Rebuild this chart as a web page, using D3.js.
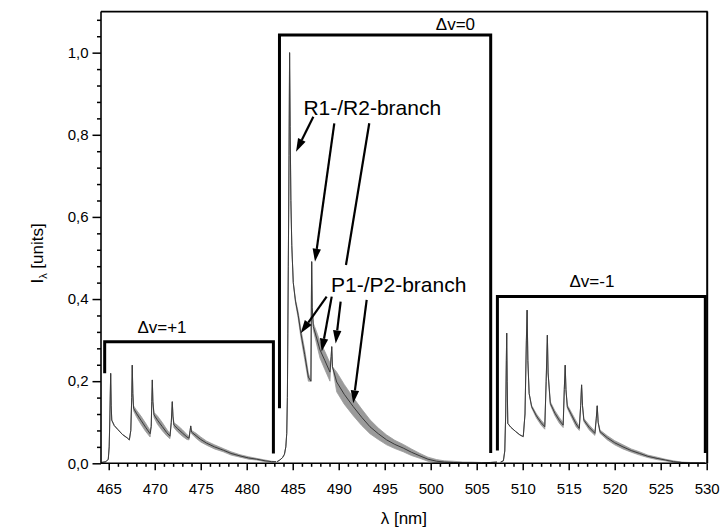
<!DOCTYPE html>
<html>
<head>
<meta charset="utf-8">
<script src="https://cdn.jsdelivr.net/npm/d3@7"></script>
<style>
  html, body { margin: 0; padding: 0; background: #fff; }
  svg { display: block; font-family: "Liberation Sans", Arial, Helvetica, sans-serif; }
</style>
</head>
<body>
<svg id="chart" width="723" height="530"></svg>
<script>
// ---- Spectrum data: wavelength (nm), intensity, noise half-width ----
// Δv=+1 sequence
const wlBand1 = [464.20,464.70,464.95,465.05,465.13,465.21,465.27,465.33,465.60,466.00,466.50,467.00,467.24,467.40,467.50,467.56,467.62,467.70,468.00,468.50,469.00,469.50,469.62,469.68,469.74,469.80,469.92,470.30,470.80,471.30,471.66,471.80,471.91,471.98,472.09,472.50,473.00,473.50,473.73,473.85,473.91,474.00,474.50,475.00,475.65,476.50,477.45,478.30,479.27,480.20,481.08,482.00,482.71,483.20];
const intBand1 = [0.002,0.004,0.010,0.040,0.120,0.219,0.140,0.105,0.092,0.082,0.070,0.062,0.057,0.080,0.160,0.239,0.170,0.134,0.122,0.105,0.088,0.072,0.090,0.150,0.203,0.150,0.118,0.105,0.090,0.075,0.066,0.100,0.150,0.115,0.093,0.084,0.074,0.064,0.061,0.080,0.091,0.076,0.067,0.058,0.049,0.040,0.032,0.024,0.018,0.013,0.010,0.006,0.004,0.004];
const noiseBand1 = [0,0,0,0,0,0,0,0,0,0,0,0,0,0,0,0,0,0.006,0.008,0.010,0.010,0.008,0,0,0,0,0.006,0.010,0.010,0.008,0.006,0,0,0,0.006,0.008,0.008,0.006,0.004,0,0,0.004,0.006,0.006,0.005,0.005,0.004,0.004,0.003,0.003,0.002,0.002,0.001,0];

// Δv=0 sequence
const wlBand0 = [483.30,483.60,483.90,484.10,484.25,484.35,484.42,484.47,484.52,484.60,484.66,484.72,484.80,484.90,485.06,485.30,485.60,485.90,486.30,486.70,486.98,487.03,487.06,487.12,487.24,487.60,487.97,488.50,489.05,489.18,489.24,489.32,489.78,490.60,491.58,492.50,493.40,494.30,495.21,496.10,497.02,497.90,498.83,499.70,500.65,501.50,502.45,503.50,504.50,505.50,506.50,507.20];
const intBand0 = [0.004,0.008,0.014,0.022,0.040,0.073,0.160,0.317,0.480,0.750,1.000,0.820,0.640,0.530,0.440,0.395,0.360,0.315,0.265,0.210,0.200,0.400,0.491,0.380,0.333,0.305,0.276,0.250,0.222,0.260,0.284,0.235,0.198,0.168,0.138,0.112,0.089,0.072,0.057,0.046,0.037,0.027,0.018,0.010,0.005,0.003,0.002,0.001,0.001,0.001,0.002,0.003];
const noiseBand0 = [0,0,0,0,0,0,0,0,0,0,0,0,0,0,0,0.004,0.008,0.010,0.012,0.010,0,0,0,0,0.008,0.015,0.020,0.022,0.022,0,0,0,0.024,0.024,0.022,0.020,0.017,0.014,0.012,0.010,0.009,0.008,0.006,0.005,0.004,0.003,0.003,0.002,0.002,0.001,0,0];

// Δv=-1 sequence
const wlBandM1 = [507.60,507.90,508.05,508.15,508.22,508.26,508.31,508.38,508.70,509.20,509.70,510.06,510.25,510.40,510.48,510.56,510.70,510.97,511.50,512.00,512.40,512.55,512.68,512.76,513.00,513.50,514.00,514.40,514.52,514.62,514.70,514.85,515.30,515.80,516.15,516.30,516.40,516.50,516.65,517.20,517.85,518.00,518.10,518.20,518.40,519.20,520.00,520.90,521.80,522.70,523.60,524.60,525.50,526.40,527.30,528.20,529.20,529.80];
const intBandM1 = [0.003,0.006,0.030,0.120,0.250,0.317,0.200,0.097,0.088,0.078,0.069,0.065,0.120,0.300,0.373,0.250,0.170,0.138,0.115,0.099,0.089,0.200,0.312,0.220,0.146,0.122,0.104,0.093,0.180,0.239,0.180,0.138,0.118,0.096,0.085,0.140,0.191,0.140,0.105,0.088,0.073,0.110,0.140,0.100,0.077,0.062,0.050,0.040,0.031,0.024,0.017,0.012,0.008,0.004,0.002,0.001,0.001,0.001];
const noiseBandM1 = [0,0,0,0,0,0,0,0,0,0,0,0,0,0,0,0,0,0.003,0.005,0.006,0.006,0,0,0,0.004,0.006,0.007,0.006,0,0,0,0.004,0.006,0.007,0.005,0,0,0,0.004,0.006,0.005,0,0,0,0.004,0.005,0.005,0.005,0.004,0.004,0.003,0.003,0.002,0.002,0.001,0.001,0,0];

// Vibrational-sequence brackets: [start nm, end nm, top level, left-leg bottom, right-leg bottom]
const bracketNames = ["Δv=+1", "Δv=0", "Δv=-1"];
const bracketStart = [464.56, 483.56, 507.25];
const bracketEnd   = [482.90, 506.52, 529.85];
const bracketTop   = [0.296, 1.043, 0.406];
const bracketLeftBottom  = [0.219, 0.134, 0.031];
const bracketRightBottom = [0.024, 0.025, 0.025];
// Bracket label anchors (nm, intensity of baseline)
const bracketLabelX = [470.79, 502.69, 517.53];
const bracketLabelY = [0.317, 1.056, 0.429];

// Branch annotations
const branchLabels = ["R1-/R2-branch", "P1-/P2-branch"];
const branchLabelX = [486.16, 489.16];
const branchLabelY = [0.848, 0.418];
// Pointer lines: [x0, y0, x1, y1, head]
const pointerX0 = [487.24, 489.52, 493.32, 488.69, 489.24, 490.21, 493.04];
const pointerY0 = [0.844, 0.828, 0.828, 0.406, 0.406, 0.394, 0.398];
const pointerX1 = [485.36, 487.42, 490.79, 485.87, 488.15, 489.67, 491.58];
const pointerY1 = [0.759, 0.491, 0.483, 0.317, 0.272, 0.292, 0.146];
const pointerHead = [true, true, false, true, true, true, true];

// Axis ticks
const xMajorTicks = d3.range(465, 531, 5);
const xMinorTicks = d3.range(465, 531, 1).filter(v => v % 5 !== 0);
const yMajorTicks = [0, 0.2, 0.4, 0.6, 0.8, 1.0];
const yMinorTicks = d3.range(0.04, 1.1, 0.04).filter(v => Math.abs(v / 0.2 - Math.round(v / 0.2)) > 1e-6);

// ---- Drawing ----
const svg = d3.select("#chart");
const x = d3.scaleLinear().domain([464.16, 530]).range([101, 706.7]);
const y = d3.scaleLinear().domain([0, 1.1]).range([463.3, 11.6]);

function bandRows(wl, it, nz) { return wl.map((w, i) => ({ w, v: it[i], n: nz[i] })); }
const bands = [
  bandRows(wlBand1, intBand1, noiseBand1),
  bandRows(wlBand0, intBand0, noiseBand0),
  bandRows(wlBandM1, intBandM1, noiseBandM1)
];

// noise envelope
const area = d3.area()
  .x(d => x(d.w))
  .y0(d => y(Math.max(0, d.v - d.n)))
  .y1(d => y(d.v + d.n))
  .curve(d3.curveLinear);
const line = d3.line().x(d => x(d.w)).y(d => y(d.v)).curve(d3.curveLinear);

const gSpec = svg.append("g");
bands.forEach(b => {
  gSpec.append("path").attr("d", area(b)).attr("fill", "#9a9a9a").attr("stroke", "#9a9a9a").attr("stroke-width", 0.8);
});
bands.forEach(b => {
  gSpec.append("path").attr("d", line(b)).attr("fill", "none").attr("stroke", "#3a3a3a").attr("stroke-width", 1);
});

// brackets
const gBr = svg.append("g").attr("fill", "none").attr("stroke", "#000").attr("stroke-width", 3).attr("stroke-linejoin", "miter");
bracketNames.forEach((name, i) => {
  const p = d3.path();
  p.moveTo(x(bracketStart[i]), y(bracketLeftBottom[i]));
  p.lineTo(x(bracketStart[i]), y(bracketTop[i]));
  p.lineTo(x(bracketEnd[i]), y(bracketTop[i]));
  p.lineTo(x(bracketEnd[i]), y(bracketRightBottom[i]));
  gBr.append("path").attr("d", p.toString());
  svg.append("text")
    .attr("x", x(bracketLabelX[i])).attr("y", y(bracketLabelY[i]))
    .attr("text-anchor", "middle").attr("font-size", 17).attr("fill", "#000")
    .text(name);
});

// branch labels
branchLabels.forEach((t, i) => {
  svg.append("text").attr("x", x(branchLabelX[i])).attr("y", y(branchLabelY[i]))
    .attr("font-size", 21).attr("fill", "#000").text(t);
});

// pointers
const gPt = svg.append("g");
pointerX0.forEach((_, i) => {
  const x0 = x(pointerX0[i]), y0 = y(pointerY0[i]), x1 = x(pointerX1[i]), y1 = y(pointerY1[i]);
  const ang = Math.atan2(y1 - y0, x1 - x0);
  const headLen = pointerHead[i] ? 13 : 0, headW = 4.2;
  const bx = x1 - headLen * Math.cos(ang), by = y1 - headLen * Math.sin(ang);
  gPt.append("line").attr("x1", x0).attr("y1", y0).attr("x2", pointerHead[i] ? bx : x1).attr("y2", pointerHead[i] ? by : y1)
    .attr("stroke", "#000").attr("stroke-width", 2.2);
  if (pointerHead[i]) {
    const px = -Math.sin(ang), py = Math.cos(ang);
    gPt.append("path")
      .attr("d", `M${x1},${y1}L${bx + headW * px},${by + headW * py}L${bx - headW * px},${by - headW * py}Z`)
      .attr("fill", "#000");
  }
});

// axes
const fmtComma = d => d3.format(".1f")(d).replace(".", ",");
const gx = svg.append("g").attr("transform", `translate(0,${y(0)})`);
gx.call(d3.axisBottom(x).tickValues(xMinorTicks).tickSize(3.5).tickFormat(""));
gx.call(g => g.select(".domain").remove());
const gxM = svg.append("g").attr("transform", `translate(0,${y(0)})`)
  .call(d3.axisBottom(x).tickValues(xMajorTicks).tickSize(7).tickPadding(13).tickFormat(d3.format("d")));
gxM.select(".domain").remove();

const gy = svg.append("g").attr("transform", `translate(${x.range()[0]},0)`);
gy.call(d3.axisLeft(y).tickValues(yMinorTicks).tickSize(4).tickFormat(""));
gy.select(".domain").remove();
const gyM = svg.append("g").attr("transform", `translate(${x.range()[0]},0)`)
  .call(d3.axisLeft(y).tickValues(yMajorTicks).tickSize(8.5).tickPadding(4).tickFormat(fmtComma));
gyM.select(".domain").remove();

svg.selectAll(".tick line").attr("stroke", "#000").attr("stroke-width", 1.5);
svg.selectAll(".tick text").attr("font-size", 15).attr("fill", "#000")
  .attr("font-family", "'Liberation Sans', Arial, sans-serif");

// axis frame
const [xl, xr] = x.range(), [yb, yt] = y.range();
svg.append("line").attr("x1", xl).attr("x2", xr).attr("y1", yb).attr("y2", yb).attr("stroke", "#000").attr("stroke-width", 1.6);
svg.append("line").attr("x1", xl).attr("x2", xl).attr("y1", yb).attr("y2", yt).attr("stroke", "#000").attr("stroke-width", 1.6);
svg.append("line").attr("x1", xl).attr("x2", xr + 1).attr("y1", yt).attr("y2", yt).attr("stroke", "#000").attr("stroke-width", 1.8);
svg.append("line").attr("x1", xr + 0.5).attr("x2", xr + 0.5).attr("y1", yt).attr("y2", yb).attr("stroke", "#000").attr("stroke-width", 2);

// axis titles
svg.append("text").attr("x", (xl + xr) / 2).attr("y", 524).attr("text-anchor", "middle")
  .attr("font-size", 17).text("λ [nm]");
const yt1 = svg.append("text").attr("transform", `translate(43,${(yb + yt) / 2 + 16}) rotate(-90)`)
  .attr("text-anchor", "middle").attr("font-size", 17);
yt1.append("tspan").text("I");
yt1.append("tspan").attr("font-size", 11).attr("dy", 4).text("λ");
yt1.append("tspan").attr("dy", -4).text(" [units]");
</script>
</body>
</html>
